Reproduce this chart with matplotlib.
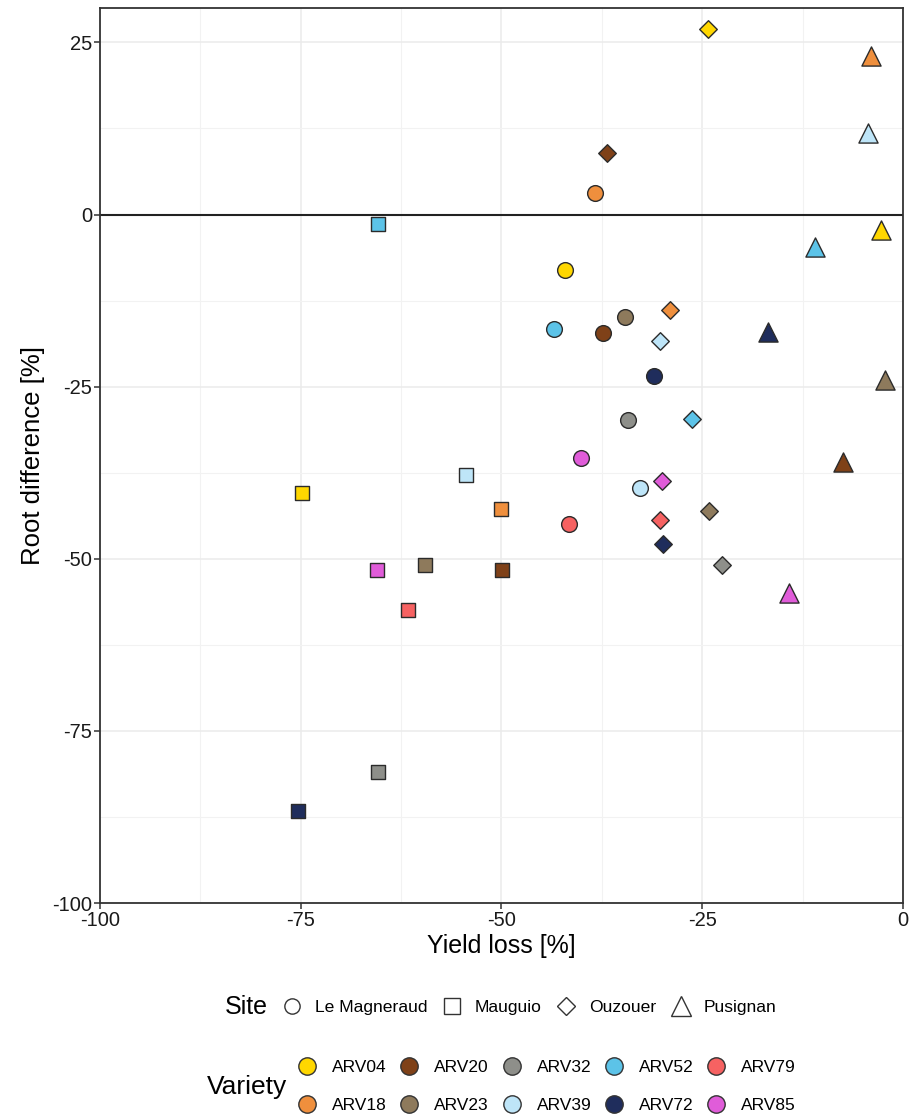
"""Yield loss vs root difference per variety and site."""

import matplotlib

matplotlib.use("Agg")
import matplotlib.pyplot as plt
from matplotlib.lines import Line2D
from matplotlib.ticker import MultipleLocator

plt.rcParams["font.family"] = ["Liberation Sans", "DejaVu Sans"]
plt.rcParams["axes.unicode_minus"] = False

varieties = ["ARV04", "ARV18", "ARV20", "ARV23", "ARV32",
             "ARV39", "ARV52", "ARV72", "ARV79", "ARV85"]
variety_colors = ["#FFD700", "#EF8F3D", "#7F4118", "#8E7A5C", "#8E8F8A",
                  "#BEE5F8", "#5CC3E8", "#1F2D5C", "#F66262", "#E05CD9"]

sites = ["Le Magneraud", "Mauguio", "Ouzouer", "Pusignan"]
site_markers = ["o", "s", "D", "^"]
site_sizes = [128, 100, 80, 190]

# yield loss / root difference per site, in variety order (None = missing)
yield_magneraud = [-42.1, -38.4, -37.3, -34.6, -34.3, -32.7, -43.4, -31.0, -41.6, -40.1]
root_magneraud = [-8.1, 3.1, -17.2, -14.9, -29.8, -39.7, -16.6, -23.4, -44.9, -35.4]

yield_mauguio = [-74.9, -50.0, -49.9, -59.5, -65.4, -54.4, -65.4, -75.4, -61.6, -65.5]
root_mauguio = [-40.5, -42.7, -51.6, -50.9, -80.9, -37.8, -1.4, -86.6, -57.4, -51.6]

yield_ouzouer = [-24.3, -29.0, -36.8, -24.1, -22.5, -30.2, -26.3, -29.9, -30.3, -30.0]
root_ouzouer = [26.9, -13.8, 9.0, -43.1, -50.9, -18.4, -29.7, -47.8, -44.3, -38.7]

yield_pusignan = [-2.7, -4.0, -7.5, -2.2, None, -4.3, -10.9, -16.8, None, -14.2]
root_pusignan = [-2.2, 23.0, -36.0, -24.1, None, 11.9, -4.7, -17.0, None, -55.0]

site_yield = [yield_magneraud, yield_mauguio, yield_ouzouer, yield_pusignan]
site_root = [root_magneraud, root_mauguio, root_ouzouer, root_pusignan]

EDGE = "#2B2B2B"


def main() -> None:
    fig = plt.figure(figsize=(9.2, 11.14), dpi=100)
    ax = fig.add_axes([0.1087, 0.1894, 0.8728, 0.8034])

    ax.set_xlim(-100, 0)
    ax.set_ylim(-100, 30)
    ax.xaxis.set_major_locator(MultipleLocator(25))
    ax.yaxis.set_major_locator(MultipleLocator(25))
    ax.xaxis.set_minor_locator(MultipleLocator(12.5))
    ax.yaxis.set_minor_locator(MultipleLocator(12.5))
    ax.grid(which="major", color="#EBEBEB", linewidth=1.1)
    ax.grid(which="minor", color="#F2F2F2", linewidth=0.8)
    ax.set_axisbelow(True)
    ax.tick_params(which="minor", length=0)
    ax.tick_params(which="major", length=4, width=1.1, color="#333333",
                   labelsize=14.5, labelcolor="#1A1A1A", pad=1.5)
    for spine in ax.spines.values():
        spine.set_color("#333333")
        spine.set_linewidth(1.3)

    ax.axhline(0, color="#222222", linewidth=1.5, zorder=1)

    for marker, size, xs, ys in zip(site_markers, site_sizes, site_yield, site_root):
        for color, x, y in zip(variety_colors, xs, ys):
            if x is None:
                continue
            ax.scatter(x, y, marker=marker, s=size, c=color,
                       edgecolors=EDGE, linewidths=1.0, zorder=3)

    ax.set_xlabel("Yield loss [%]", fontsize=18, labelpad=3)
    ax.set_ylabel("Root difference [%]", fontsize=18.5, labelpad=5)

    # Site legend, title on the left as in ggplot
    site_handles = [
        Line2D([], [], marker=m, linestyle="none",
               markersize={"o": 11, "s": 11, "D": 9.5, "^": 14}[m],
               markerfacecolor="white", markeredgecolor="#333333", markeredgewidth=1.0)
        for m in site_markers
    ]
    fig.text(0.2446, 0.0960, "Site", fontsize=18, ha="left", va="center")
    fig.legend(site_handles, sites, loc="center left",
               bbox_to_anchor=(0.306, 0.0960), ncol=4, frameon=False,
               fontsize=12.6, handlelength=1.2, handletextpad=0.71,
               columnspacing=0.8, borderaxespad=0, borderpad=0)

    variety_handles = [
        Line2D([], [], marker="o", linestyle="none", markersize=12.5,
               markerfacecolor=c, markeredgecolor="#333333", markeredgewidth=1.0)
        for c in variety_colors
    ]
    fig.text(0.225, 0.0245, "Variety", fontsize=19, ha="left", va="center")
    fig.legend(variety_handles, varieties, loc="center left",
               bbox_to_anchor=(0.3225, 0.0245), ncol=5, frameon=False,
               fontsize=12.5, handlelength=1.2, handletextpad=0.84,
               columnspacing=0.7, labelspacing=1.3,
               borderaxespad=0, borderpad=0)

    fig.savefig("out.png", dpi=100, facecolor="white")


if __name__ == "__main__":
    main()
